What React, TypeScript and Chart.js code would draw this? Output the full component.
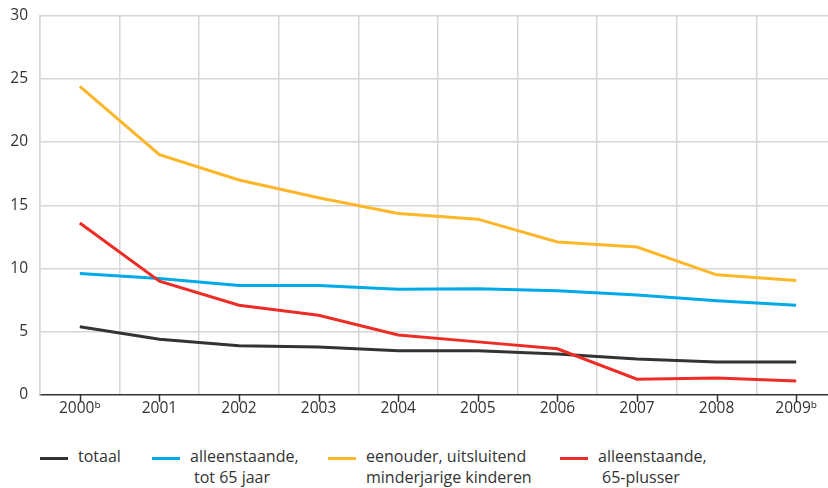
import React, { useEffect, useRef } from "react";
import { Chart, registerables } from "chart.js";

Chart.register(...registerables);

const categories = ["2000ᵇ", "2001", "2002", "2003", "2004", "2005", "2006", "2007", "2008", "2009ᵇ"];
const totaal = [5.4, 4.4, 3.9, 3.8, 3.5, 3.5, 3.25, 2.85, 2.6, 2.6];
const alleenstaandeTot65 = [9.6, 9.2, 8.65, 8.65, 8.35, 8.4, 8.25, 7.9, 7.45, 7.1];
const eenouder = [24.4, 19.0, 17.0, 15.6, 14.35, 13.9, 12.1, 11.7, 9.5, 9.05];
const alleenstaande65plus = [13.6, 9.0, 7.1, 6.3, 4.75, 4.2, 3.65, 1.25, 1.35, 1.1];
const yTicks = [0, 5, 10, 15, 20, 25, 30];

const COLORS = {
  totaal: "#333333",
  blue: "#00a9e8",
  yellow: "#fdb628",
  red: "#ee2c26",
};

const FONT = "'Open Sans', 'Noto Sans', sans-serif";

const legendItems = [
  { lines: ["totaal"], color: COLORS.totaal, left: 40 },
  { lines: ["alleenstaande,", "tot 65 jaar"], color: COLORS.blue, left: 152 },
  { lines: ["eenouder, uitsluitend", "minderjarige kinderen"], color: COLORS.yellow, left: 328 },
  { lines: ["alleenstaande,", "65-plusser"], color: COLORS.red, left: 560 },
];

const tickMarks = {
  id: "tickMarks",
  afterDatasetsDraw(chart: any) {
    const x = chart.scales.x;
    const ctx = chart.ctx;
    ctx.save();
    ctx.strokeStyle = "#333333";
    ctx.lineWidth = 1.5;
    for (let i = 0; i < categories.length; i++) {
      const px = Math.round(x.getPixelForValue(i)) + 0.5;
      ctx.beginPath();
      ctx.moveTo(px, x.top);
      ctx.lineTo(px, x.top + 7);
      ctx.stroke();
    }
    ctx.restore();
  },
};

export default function App() {
  const ref = useRef<HTMLCanvasElement | null>(null);

  useEffect(() => {
    if (!ref.current) return;
    const mk = (label: string, data: number[], color: string) => ({
      label,
      data,
      borderColor: color,
      backgroundColor: color,
      borderWidth: 3,
      pointRadius: 0,
      tension: 0,
      fill: false,
    });
    const chart = new Chart(ref.current, {
      type: "line",
      data: {
        labels: categories,
        datasets: [
          mk("alleenstaande, 65-plusser", alleenstaande65plus, COLORS.red),
          mk("eenouder, uitsluitend minderjarige kinderen", eenouder, COLORS.yellow),
          mk("alleenstaande, tot 65 jaar", alleenstaandeTot65, COLORS.blue),
          mk("totaal", totaal, COLORS.totaal),
        ],
      },
      options: {
        responsive: false,
        animation: false,
        devicePixelRatio: 1,
        layout: { padding: { top: 15.5, left: 0, right: 0, bottom: 0 } },
        plugins: {
          legend: { display: false },
          tooltip: { enabled: false },
        },
        scales: {
          x: {
            offset: true,
            grid: {
              offset: true,
              color: "#d6d6d6",
              lineWidth: 1.5,
              drawTicks: false,
            },
            border: { display: true, color: "#333333", width: 1.5 },
            ticks: {
              color: "#333333",
              font: { family: FONT, size: 15.5 },
              padding: 4,
              maxRotation: 0,
              autoSkip: false,
            },
            afterFit(scale: any) {
              scale.height = 26;
              scale.paddingLeft = 0;
              scale.paddingRight = 0;
            },
          },
          y: {
            min: 0,
            max: 30,
            afterBuildTicks(scale: any) {
              scale.ticks = yTicks.map((v) => ({ value: v }));
            },
            grid: {
              color: (c: any) => (c.tick && c.tick.value === 0 ? "rgba(0,0,0,0)" : "#d6d6d6"),
              lineWidth: 1.5,
              drawTicks: false,
            },
            border: { display: true, color: "#d6d6d6", width: 1.5 },
            ticks: {
              color: "#333333",
              font: { family: FONT, size: 15.5 },
              padding: 12,
            },
            afterFit(scale: any) {
              scale.width = 40;
              scale.paddingTop = 0;
              scale.paddingBottom = 0;
            },
          },
        },
      },
      plugins: [tickMarks],
    });
    return () => chart.destroy();
  }, []);

  return (
    <div
      style={{
        position: "absolute",
        left: 0,
        top: 0,
        width: 828,
        height: 488,
        overflow: "hidden",
        background: "#ffffff",
        fontFamily: FONT,
      }}
    >
      <canvas ref={ref} width={836} height={421} style={{ display: "block" }} />
      {legendItems.map((item, i) => (
        <div
          key={i}
          style={{
            position: "absolute",
            left: item.left,
            top: 446,
            display: "flex",
            alignItems: "flex-start",
          }}
        >
          <div
            style={{
              width: 28,
              height: 3,
              background: item.color,
              marginTop: 11,
              marginRight: 10,
            }}
          />
          <div style={{ fontSize: 16, lineHeight: "21px", color: "#333333", whiteSpace: "nowrap" }}>
            {item.lines.map((l, j) => (
              <div key={j} style={{ paddingLeft: j > 0 && item.left !== 328 ? 4 : 0 }}>
                {l}
              </div>
            ))}
          </div>
        </div>
      ))}
    </div>
  );
}
